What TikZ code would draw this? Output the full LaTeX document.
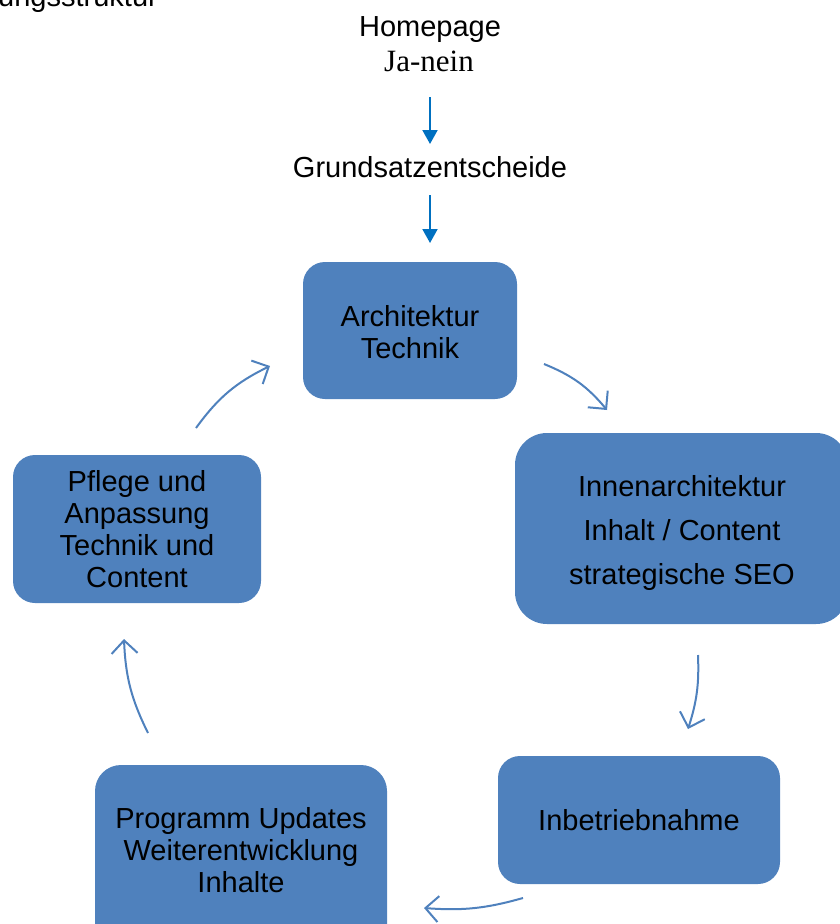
\documentclass[tikz,border=0pt]{standalone}
\usepackage{fontspec}
\setmainfont{Liberation Sans}
\newfontfamily\serifjn{Liberation Serif}
\usetikzlibrary{arrows.meta}
\definecolor{boxblue}{RGB}{79,129,189}
\definecolor{arrblue}{RGB}{0,112,192}
\definecolor{curveblue}{RGB}{79,129,189}
\begin{document}
\begin{tikzpicture}[x=1pt,y=-1pt,
  plain/.style={align=center,inner sep=0pt,font=\fontsize{29}{32}\selectfont},
  boxshape/.style={fill=boxblue,draw=none,rounded corners=#1},
  downarrow/.style={draw=arrblue,line width=2pt,-{Triangle[length=14pt,width=15pt]}},
  cyclearrow/.style={draw=curveblue,line width=2pt,-{Straight Barb[length=13pt,width=26pt]}}
]
\useasboundingbox (0,0) rectangle (840,924);

% clipped heading at top-left
\node[plain,anchor=base east] (head) at (158,6) {ungsstruktur};

% top texts
\node[plain,anchor=base] (home) at (430,36) {Homepage};
\node[inner sep=0pt,anchor=base,font=\serifjn\fontsize{31}{34}\selectfont] (jn) at (429,71) {Ja-nein};
\node[plain,anchor=base] (grund) at (430,177) {Grundsatzentscheide};

% boxes
\path[boxshape=22pt] (303,262) rectangle (517,399);
\node[plain] (arch) at (410,332) {Architektur\\Technik};

\path[boxshape=32pt] (515,433) rectangle (848,624);
\node[plain,font=\fontsize{29}{44}\selectfont] (innen) at (682,533) {Innenarchitektur\\Inhalt / Content\\strategische SEO};

\path[boxshape=22pt] (498,756) rectangle (780,884);
\node[plain] (inbetrieb) at (639,820) {Inbetriebnahme};

\path[boxshape=26pt] (95,765) rectangle (387,950);
\node[plain] (prog) at (241,850) {Programm Updates\\Weiterentwicklung\\Inhalte};

\path[boxshape=22pt] (13,455) rectangle (261,603);
\node[plain] (pflege) at (137,529) {Pflege und\\Anpassung\\Technik und\\Content};

% straight arrows
\coordinate (a1s) at (430,97);
\coordinate (a1e) at (430,144);
\coordinate (a2s) at (430,195);
\coordinate (a2e) at (430,243);
\draw[downarrow] (a1s) -- (a1e);
\draw[downarrow] (a2s) -- (a2e);

% cycle arrows
\coordinate (c1s) at (544,364); \coordinate (c1e) at (607,410);
\coordinate (c2s) at (698,655); \coordinate (c2e) at (688,729);
\coordinate (c3s) at (523,898); \coordinate (c3e) at (424,908);
\coordinate (c4s) at (148,733); \coordinate (c4e) at (124,639);
\coordinate (c5s) at (196,428); \coordinate (c5e) at (270,366);
\draw[cyclearrow] (c1s) to[bend left=14] (c1e);
\draw[cyclearrow] (c2s) to[bend left=10] (c2e);
\draw[cyclearrow] (c3s) to[bend left=10] (c3e);
\draw[cyclearrow] (c4s) to[bend left=12] (c4e);
\draw[cyclearrow] (c5s) to[bend left=14] (c5e);
\end{tikzpicture}
\end{document}
